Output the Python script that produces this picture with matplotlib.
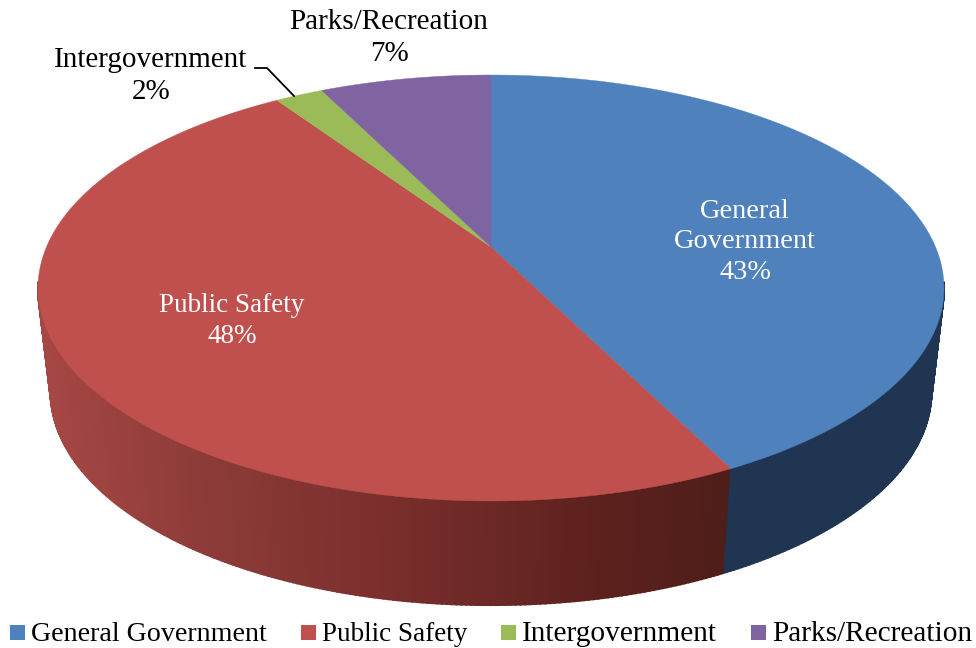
import numpy as np
import matplotlib
matplotlib.use("Agg")
import matplotlib.pyplot as plt
from matplotlib.patches import Rectangle

categories = ["General Government", "Public Safety", "Intergovernment", "Parks/Recreation"]
values = [43, 48, 2, 7]
colors = ["#4F81BD", "#C0504D", "#9BBB59", "#8064A2"]

# side wall shades, by screen x
red_x = [40, 200, 400, 600, 725]
red_r = [168, 142, 120, 92, 78]
red_g = [72, 60, 46, 33, 30]
red_b = [69, 57, 43, 29, 25]
blue_side = "#1F3552"

plt.rcParams["font.family"] = ["Liberation Serif", "DejaVu Serif"]
legend_fs = [20.2, 19.5, 21.2, 21.2]


# perspective disc: turn angle t (clockwise from 12 o'clock) into pixels
def rim(t, cx=491.0, cy=247.0, a=444.5, b=205.1, k=0.1925):
    t = t + 0.03 * np.sin(2 * t)
    u = np.sin(t)
    v = np.cos(t)
    w = 1 + k * v
    return cx + a * u / w, cy - b * v / w


def lower(x, y):
    return 491 + 0.972 * (x - 491), y + 104


fig = plt.figure(figsize=(9.76, 6.48), dpi=100)
ax = fig.add_axes([0, 0, 1, 1])
ax.set_xlim(0, 976)
ax.set_ylim(648, 0)
ax.axis("off")

edges = np.cumsum([0] + values) / sum(values) * 2 * np.pi

# side wall first, as thin strips so the shade can change along it
tt = np.radians(np.linspace(100, 260, 321))
for i in range(len(tt) - 1):
    x0, y0 = rim(tt[i])
    x1, y1 = rim(tt[i + 1])
    x2, y2 = lower(x1, y1)
    x3, y3 = lower(x0, y0)
    mid = 0.5 * (tt[i] + tt[i + 1])
    if mid < edges[1]:
        c = blue_side
    else:
        xm = 0.5 * (x2 + x3)
        c = (np.interp(xm, red_x, red_r) / 255,
             np.interp(xm, red_x, red_g) / 255,
             np.interp(xm, red_x, red_b) / 255)
    ax.fill([x0, x1, x2, x3], [y0, y1, y2, y3], color=c, lw=1.5, zorder=1)

# top face
for i in range(len(values)):
    t = np.linspace(edges[i], edges[i + 1], 200)
    x, y = rim(t)
    ax.fill(np.r_[491, x], np.r_[247, y], color=colors[i], lw=0.3, zorder=2)

# slice labels
ax.text(745, 242, "General\nGovernment\n%d%%" % values[0], color="white", fontsize=20.4,
        ha="center", va="center", linespacing=1.28, zorder=3)
ax.text(232, 321, "Public Safety\n%d%%" % values[1], color="white", fontsize=19.5,
        ha="center", va="center", linespacing=1.28, zorder=3)
ax.text(151, 76, "Intergovernment\n%d%%" % values[2], color="black", fontsize=21,
        ha="center", va="center", linespacing=1.26, zorder=3)
ax.text(389, 38, "Parks/Recreation\n%d%%" % values[3], color="black", fontsize=21,
        ha="center", va="center", linespacing=1.3, zorder=3)
ax.plot([255, 267, 294], [68, 68, 96], color="black", lw=1.3, zorder=3)

# legend
legend_x = [10, 301, 501, 751]
for i in range(len(categories)):
    ax.add_patch(Rectangle((legend_x[i], 625), 15, 15, facecolor=colors[i], edgecolor="none"))
    ax.text(legend_x[i] + 21, 641, categories[i], color="black", fontsize=legend_fs[i], ha="left", va="baseline")

fig.savefig("out.png", dpi=100, facecolor="white")
